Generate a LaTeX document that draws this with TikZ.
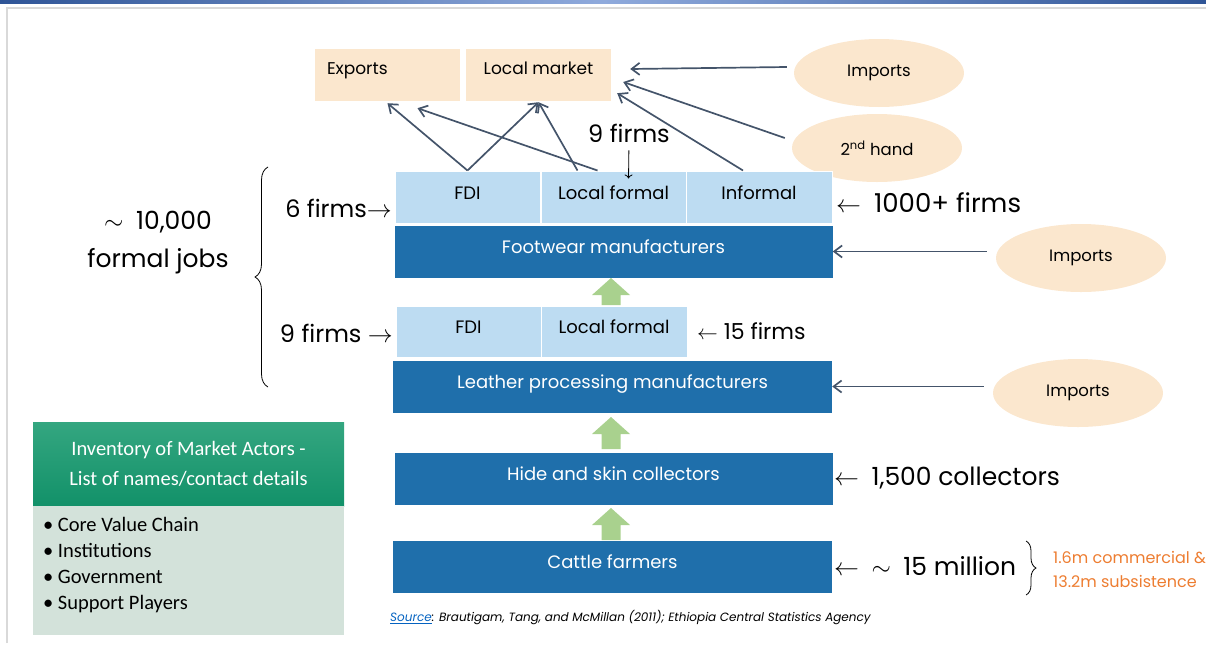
\documentclass[tikz,border=0pt]{standalone}
\usepackage{fontspec}
\setmainfont{Poppins}
\newfontfamily\calib{Carlito}
\usetikzlibrary{arrows.meta,positioning,shapes.geometric,decorations.pathreplacing}
\definecolor{peach}{RGB}{251,231,206}
\definecolor{cellBlue}{RGB}{189,220,242}
\definecolor{barBlue}{RGB}{31,111,171}
\definecolor{liftGreen}{RGB}{169,209,142}
\definecolor{slate}{RGB}{68,84,106}
\definecolor{noteOrange}{RGB}{237,125,49}
\definecolor{invGreenA}{RGB}{52,166,128}
\definecolor{invGreenB}{RGB}{18,145,105}
\definecolor{invPale}{RGB}{211,226,218}
\definecolor{frameGray}{RGB}{217,217,217}
\definecolor{ruleBlueA}{RGB}{47,85,151}
\definecolor{ruleBlueB}{RGB}{143,170,220}
\definecolor{linkBlue}{RGB}{5,99,193}
\newcommand\fsz[1]{\fontsize{#1}{#1}\selectfont}

\begin{document}
\begin{tikzpicture}[x=1pt,y=-1pt,
 cell/.style={fill=cellBlue,draw=white,line width=1pt,minimum height=52pt,inner sep=0pt,text height=13pt,text depth=9pt,font=\fsz{18}},
 chainbar/.style={fill=barBlue,text=white,minimum width=438pt,minimum height=52pt,inner sep=0pt,text height=13pt,text depth=10pt,font=\fsz{18}},
 market/.style={fill=peach,minimum height=52pt,inner sep=0pt,text height=12pt,text depth=14pt,font=\fsz{17}},
 supply/.style={ellipse,fill=peach,minimum width=170pt,minimum height=68pt,inner sep=0pt,font=\fsz{16.5}},
 feed/.style={-{Straight Barb[length=8pt,width=12pt]},slate,line width=1.7pt},
 tally/.style={inner sep=0pt,font=\fsz{24}},
 lift/.style={fill=liftGreen}]
\useasboundingbox (0,0) rectangle (1206,646);
% slide frame
\shade[left color=ruleBlueA,right color=ruleBlueA,middle color=ruleBlueB] (0,0.5) rectangle (1206,3);
\draw[frameGray,line width=2pt] (7,643) -- (7,8) -- (1206,8);
% markets and outside supply
\node[market,minimum width=145pt,text width=121pt,align=left] (exports) at (387.5,75) {Exports};
\node[market,minimum width=145pt] (lmkt) at (538.5,75) {Local market};
\node[supply] (impTop) at (879,73) {Imports};
\node[supply] (second) at (877,148) {2\textsuperscript{nd} hand};
% value chain
\node[cell,minimum width=145pt] (fdiF) at (467.5,197) {FDI};
\node[cell,minimum width=145pt] (lfF) at (613.5,197) {Local formal};
\node[cell,minimum width=146pt] (infF) at (759,197) {Informal};
\node[chainbar] (foot) at (613.5,251.5) {Footwear manufacturers};
\node[cell,minimum width=145pt,minimum height=51pt] (fdiL) at (468.5,331.5) {FDI};
\node[cell,minimum width=146pt,minimum height=51pt] (lfL) at (614,331.5) {Local formal};
\node[chainbar,minimum width=439pt] (leather) at (612.5,386.5) {Leather processing manufacturers};
\node[chainbar] (hide) at (613.5,478.5) {Hide and skin collectors};
\node[chainbar,minimum width=439pt] (cattle) at (612.5,566.5) {Cattle farmers};
\foreach \yb/\len in {305/27,449/32,540/32}
 \fill[lift] (601.5,\yb) -- (601.5,\yb-\len+17) -- (592,\yb-\len+17) -- (611,\yb-\len)
  -- (630,\yb-\len+17) -- (620.5,\yb-\len+17) -- (620.5,\yb) -- cycle;
\node[supply] (impFoot) at (1081,258) {Imports};
\node[supply] (impLeather) at (1078,393) {Imports};
% flows
\draw[feed] (fdiF.north) -- ([yshift=-2pt]exports.south);
\draw[feed] (fdiF.north) -- ([yshift=-1pt]lmkt.south);
\draw[feed] ([xshift=-36pt]lfF.north) -- ([yshift=-1pt]lmkt.south);
\draw[feed] ([xshift=-16pt]lfF.north) -- ([xshift=30pt,yshift=-7pt]exports.south);
\draw[feed] ([xshift=-16pt]infF.north) -- ([xshift=6pt,yshift=8pt]lmkt.south east);
\draw[feed] ([xshift=-7pt,yshift=10pt]second.west) -- ([xshift=12pt,yshift=-7pt]lmkt.east);
\draw[feed] ([xshift=-7pt,yshift=6pt]impTop.west) -- ([xshift=19pt,yshift=6pt]lmkt.east);
\draw[feed,shorten <=9pt] (impFoot.west |- foot.east) -- (foot.east);
\draw[feed,shorten <=9pt] (impLeather.west |- leather.east) -- (leather.east);
% firm counts
\node[tally] (nineT) at (629,133) {9 firms};
\draw[-{To[length=4pt,width=8pt]},line width=0.8pt,shorten <=8pt] (nineT.south) -- ([xshift=15pt,yshift=-8pt]lfF.north);
\node[tally,anchor=east] (sixF) at (392,208) {6 firms$\rightarrow$};
\node[tally,anchor=east] (nineL) at (393,333) {9 firms $\rightarrow$};
\node[tally,font=\fsz{22},anchor=west] (fifteen) at (697,331) {$\leftarrow$ 15 firms};
\node[tally,font=\fsz{26},anchor=west] (thousand) at (836,203) {$\leftarrow$\enspace1000+ firms};
\node[tally,font=\fsz{25},anchor=west] (collect) at (834,478) {$\leftarrow$\enspace1,500 collectors};
\node[tally,font=\fsz{25},anchor=west] (herd) at (834,566) {$\leftarrow$\enspace$\sim$\enspace15 million};
\node[tally,font=\fontsize{25}{38}\selectfont,align=center] (jobs) at (158,243) {$\sim$\enspace10,000\\formal jobs};
\coordinate (braceTop) at (268,167);
\coordinate (braceBot) at (268,387);
\draw[line width=0.8pt,decorate,decoration={brace,amplitude=13pt}] (braceBot) -- (braceTop);
\coordinate (splitTop) at (1026,541);
\coordinate (splitBot) at (1026,595);
\draw[line width=0.8pt,decorate,decoration={brace,amplitude=10pt}] (splitTop) -- (splitBot);
\node[anchor=west,align=left,text=noteOrange,font=\fontsize{16}{24}\selectfont,inner sep=0pt] (split) at (1053,569) {1.6m commercial \&\\13.2m subsistence};
% inventory box
\node[top color=invGreenA,bottom color=invGreenB,minimum width=311pt,minimum height=84pt,inner sep=0pt,
 text=white,align=center,font=\calib\fontsize{20.5}{30}\selectfont] (inv) at (188.5,464) {Inventory of Market Actors -\\List of names/contact details};
\node[fill=invPale,minimum width=311pt,minimum height=129pt,inner sep=0pt] (invBody) at (188.5,570.5) {};
\node[anchor=north west,align=left,inner sep=0pt,font=\calib\fontsize{20.5}{26}\selectfont] (invList)
 at ([xshift=10pt,yshift=-11pt]invBody.north west) {\textbullet{} Core Value Chain\\\textbullet{} Institutions\\\textbullet{} Government\\\textbullet{} Support Players};
\node[anchor=west,inner sep=0pt,font=\itshape\fontsize{12}{13}\selectfont] (src) at (390,618)
 {\textcolor{linkBlue}{\underline{Source}}: Brautigam, Tang, and McMillan (2011); Ethiopia Central Statistics Agency};
\end{tikzpicture}
\end{document}
